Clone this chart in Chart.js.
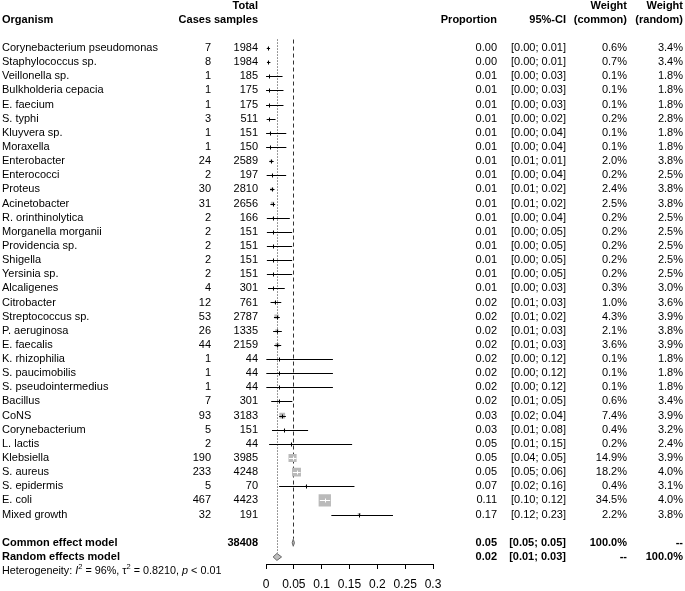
<!DOCTYPE html>
<html>
<head>
<meta charset="utf-8">
<script src="https://cdn.jsdelivr.net/npm/chart.js@4/dist/chart.umd.min.js"></script>
<style>
html,body{margin:0;padding:0;background:#fff;}
#wrap{width:685px;height:591px;position:relative;}
</style>
</head>
<body>
<div id="wrap"><canvas id="c" width="685" height="591"></canvas></div>
<script>
const organisms = ["Corynebacterium pseudomonas","Staphylococcus sp.","Veillonella sp.","Bulkholderia cepacia","E. faecium","S. typhi","Kluyvera sp.","Moraxella","Enterobacter","Enterococci","Proteus","Acinetobacter","R. orinthinolytica","Morganella morganii","Providencia sp.","Shigella","Yersinia sp.","Alcaligenes","Citrobacter","Streptococcus sp.","P. aeruginosa","E. faecalis","K. rhizophilia","S. paucimobilis","S. pseudointermedius","Bacillus","CoNS","Corynebacterium","L. lactis","Klebsiella","S. aureus","S. epidermis","E. coli","Mixed growth"];
const cases = [7,8,1,1,1,3,1,1,24,2,30,31,2,2,2,2,2,4,12,53,26,44,1,1,1,7,93,5,2,190,233,5,467,32];
const totals = [1984,1984,185,175,175,511,151,150,2589,197,2810,2656,166,151,151,151,151,301,761,2787,1335,2159,44,44,44,301,3183,151,44,3985,4248,70,4423,191];
const proportions = [0.0035,0.0040,0.0054,0.0057,0.0057,0.0059,0.0066,0.0067,0.0093,0.0102,0.0107,0.0117,0.0120,0.0132,0.0132,0.0132,0.0132,0.0133,0.0158,0.0190,0.0195,0.0204,0.0227,0.0227,0.0227,0.0233,0.0292,0.0331,0.04545,0.0477,0.0548,0.0714,0.1056,0.1675];
const ciLower = [0.0014,0.0017,0.0001,0.0001,0.0001,0.0012,0.0002,0.0002,0.0059,0.0012,0.0072,0.0079,0.0015,0.0016,0.0016,0.0016,0.0016,0.0036,0.0082,0.0143,0.0128,0.0148,0.0006,0.0006,0.0006,0.0094,0.0237,0.0108,0.0056,0.0412,0.0482,0.0236,0.0967,0.1174];
const ciUpper = [0.0073,0.0079,0.0297,0.0314,0.0314,0.0171,0.0364,0.0366,0.0137,0.0362,0.0152,0.0165,0.0428,0.0470,0.0470,0.0470,0.0470,0.0337,0.0274,0.0248,0.0284,0.0273,0.1202,0.1202,0.1202,0.0473,0.0357,0.0756,0.1547,0.0548,0.0621,0.1589,0.1152,0.2281];
const weightCommon = [0.6,0.7,0.1,0.1,0.1,0.2,0.1,0.1,2.0,0.2,2.4,2.5,0.2,0.2,0.2,0.2,0.2,0.3,1.0,4.3,2.1,3.6,0.1,0.1,0.1,0.6,7.4,0.4,0.2,14.9,18.2,0.4,34.5,2.2];
const weightRandom = [3.4,3.4,1.8,1.8,1.8,2.8,1.8,1.8,3.8,2.5,3.8,3.8,2.5,2.5,2.5,2.5,2.5,3.0,3.6,3.9,3.8,3.9,1.8,1.8,1.8,3.4,3.9,3.2,2.4,3.9,4.0,3.1,4.0,3.8];
const totalSamples = 38408;
const commonModel = {est:0.0490, lo:0.0470, hi:0.0511};
const randomModel = {est:0.0196, lo:0.0128, hi:0.0280};
const xTicks = [0,0.05,0.1,0.15,0.2,0.25,0.3];

const N = organisms.length;
const ROW_COMMON = N + 1, ROW_RANDOM = N + 2;
const FONT = "'Liberation Sans', Arial, sans-serif";
const FS = 11;

function sqSide(w){ return 2.1*Math.sqrt(w); }

const squareData = proportions.map((p,i)=>({x:p,y:i}));
const squareRadius = weightCommon.map(w=>Math.max(sqSide(w),0.5)/Math.SQRT2);

const forestPlugin = {
  id:'forest',
  beforeDatasetsDraw(chart){
    const ctx = chart.ctx, xs = chart.scales.x, ys = chart.scales.y;
    ctx.save();
    const yTop = ys.getPixelForValue(-0.6);
    ctx.strokeStyle = '#333'; ctx.lineWidth = 1;
    ctx.setLineDash([1,2]);
    let xr = Math.round(xs.getPixelForValue(randomModel.est))+0.5;
    ctx.beginPath(); ctx.moveTo(xr,yTop); ctx.lineTo(xr, ys.getPixelForValue(ROW_RANDOM)-4); ctx.stroke();
    ctx.setLineDash([4,3]);
    let xc = Math.round(xs.getPixelForValue(commonModel.est))+0.5;
    ctx.beginPath(); ctx.moveTo(xc,yTop); ctx.lineTo(xc, ys.getPixelForValue(ROW_COMMON)-4); ctx.stroke();
    ctx.setLineDash([]);
    ctx.restore();
  },
  afterDatasetsDraw(chart){
    const ctx = chart.ctx, xs = chart.scales.x, ys = chart.scales.y;
    ctx.save();
    for(let i=0;i<N;i++){
      const y = Math.round(ys.getPixelForValue(i))+0.5;
      const x1 = xs.getPixelForValue(ciLower[i]), x2 = xs.getPixelForValue(ciUpper[i]);
      const px = xs.getPixelForValue(proportions[i]);
      const half = sqSide(weightCommon[i])/2;
      const inside = (x1 >= px-half) && (x2 <= px+half);
      ctx.strokeStyle = inside ? '#fff' : '#000';
      ctx.lineWidth = 1;
      ctx.beginPath(); ctx.moveTo(x1,y); ctx.lineTo(x2,y); ctx.stroke();
      ctx.beginPath(); ctx.moveTo(Math.round(px)+0.5,y-2); ctx.lineTo(Math.round(px)+0.5,y+2); ctx.stroke();
    }
    const dia = (m,row)=>{
      const y = ys.getPixelForValue(row);
      const a = xs.getPixelForValue(m.lo), b = xs.getPixelForValue(m.hi), c = xs.getPixelForValue(m.est);
      ctx.beginPath(); ctx.moveTo(a,y); ctx.lineTo(c,y-3.5); ctx.lineTo(b,y); ctx.lineTo(c,y+3.5); ctx.closePath();
      ctx.fillStyle = '#c0c0c0'; ctx.fill(); ctx.strokeStyle = '#666'; ctx.lineWidth = 1; ctx.stroke();
    };
    dia(commonModel, ROW_COMMON);
    dia(randomModel, ROW_RANDOM);
    ctx.restore();
  },
  afterDraw(chart){
    const ctx = chart.ctx, ys = chart.scales.y;
    ctx.save();
    ctx.fillStyle = '#000';
    ctx.textBaseline = 'middle';
    const txt = (s,x,row,align,bold)=>{
      ctx.font = (bold?'bold ':'') + FS + 'px ' + FONT;
      ctx.textAlign = align;
      ctx.fillText(s, x, ys.getPixelForValue(row));
    };
    const COL = {org:2, cases:211, total:258, prop:497, ci:566, wc:627, wr:683};
    txt('Organism', COL.org, -2, 'left', true);
    txt('Cases', COL.cases, -2, 'right', true);
    txt('Total', COL.total, -3, 'right', true);
    txt('samples', COL.total, -2, 'right', true);
    txt('Proportion', COL.prop, -2, 'right', true);
    txt('95%-CI', COL.ci, -2, 'right', true);
    txt('Weight', COL.wc, -3, 'right', true);
    txt('(common)', COL.wc, -2, 'right', true);
    txt('Weight', COL.wr, -3, 'right', true);
    txt('(random)', COL.wr, -2, 'right', true);
    const f2 = v=>v.toFixed(2);
    for(let i=0;i<N;i++){
      txt(organisms[i], COL.org, i, 'left', false);
      txt(String(cases[i]), COL.cases, i, 'right', false);
      txt(String(totals[i]), COL.total, i, 'right', false);
      txt(f2(proportions[i]), COL.prop, i, 'right', false);
      txt('['+f2(ciLower[i])+'; '+f2(ciUpper[i])+']', COL.ci, i, 'right', false);
      txt(weightCommon[i].toFixed(1)+'%', COL.wc, i, 'right', false);
      txt(weightRandom[i].toFixed(1)+'%', COL.wr, i, 'right', false);
    }
    txt('Common effect model', COL.org, ROW_COMMON, 'left', true);
    txt(String(totalSamples), COL.total, ROW_COMMON, 'right', true);
    txt(f2(commonModel.est), COL.prop, ROW_COMMON, 'right', true);
    txt('['+f2(commonModel.lo)+'; '+f2(commonModel.hi)+']', COL.ci, ROW_COMMON, 'right', true);
    txt('100.0%', COL.wc, ROW_COMMON, 'right', true);
    txt('--', COL.wr, ROW_COMMON, 'right', true);
    txt('Random effects model', COL.org, ROW_RANDOM, 'left', true);
    txt(f2(randomModel.est), COL.prop, ROW_RANDOM, 'right', true);
    txt('['+f2(randomModel.lo)+'; '+f2(randomModel.hi)+']', COL.ci, ROW_RANDOM, 'right', true);
    txt('--', COL.wc, ROW_RANDOM, 'right', true);
    txt('100.0%', COL.wr, ROW_RANDOM, 'right', true);
    const hy = ys.getPixelForValue(ROW_RANDOM+1);
    let x = 2;
    const piece = (s, style, size, dy)=>{
      ctx.font = style + size + 'px ' + FONT;
      ctx.textAlign = 'left';
      ctx.fillText(s, x, hy + (dy||0));
      x += ctx.measureText(s).width;
    };
    piece('Heterogeneity: ', '', 10.8);
    piece('I', 'italic ', 10.8);
    piece('2', '', 7.5, -4);
    piece(' = 96%, \u03C4', '', 10.8);
    piece('2', '', 7.5, -4);
    piece(' = 0.8210, ', '', 10.8);
    piece('p', 'italic ', 10.8);
    piece(' < 0.01', '', 10.8);
    ctx.restore();
  }
};

new Chart(document.getElementById('c'), {
  type:'scatter',
  data:{
    datasets:[{
      label:'Proportion',
      data: squareData,
      pointStyle:'rect',
      pointRadius: squareRadius,
      pointHoverRadius: squareRadius,
      backgroundColor:'#bababa',
      borderWidth:0,
      borderColor:'rgba(0,0,0,0)'
    }]
  },
  options:{
    responsive:false,
    animation:false,
    events:[],
    layout:{padding:{left:266, right:252, top:0, bottom:0}},
    plugins:{legend:{display:false}, tooltip:{enabled:false}},
    scales:{
      x:{
        type:'linear', min:0, max:0.3,
        afterBuildTicks(scale){ scale.ticks = xTicks.map(v=>({value:v})); },
        afterFit(scale){ scale.height = 27; },
        ticks:{ color:'#000', padding:8, maxRotation:0, autoSkip:false,
          font:{family:FONT, size:12},
          callback:v=>String(+v.toFixed(2)) },
        grid:{ drawOnChartArea:false, drawTicks:true, tickLength:5, color:'#000', lineWidth:1 },
        border:{ display:true, color:'#000', width:1 }
      },
      y:{
        type:'linear', min:-2.78, max:36.5, reverse:true, display:false
      }
    }
  },
  plugins:[forestPlugin]
});
</script>
</body>
</html>
